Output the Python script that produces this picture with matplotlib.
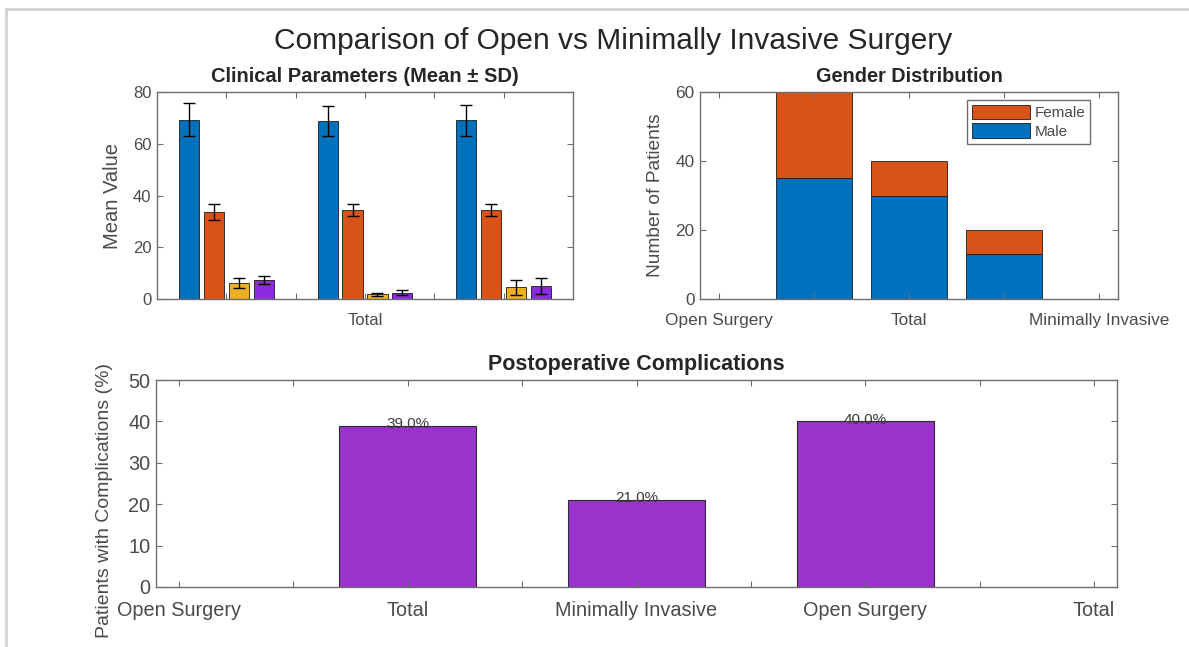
#!/usr/bin/env python3
import matplotlib
matplotlib.use('Agg')
import matplotlib.pyplot as plt
from matplotlib.lines import Line2D
import numpy as np

plt.rcParams['font.family'] = ['Liberation Sans', 'DejaVu Sans']

# clinical parameters, 3 groups x 4 parameters
clin_groups = [1, 2, 3]
clin_means = [
    [69.3, 33.7, 6.3, 7.3],
    [68.8, 34.3, 1.8, 2.4],
    [69.1, 34.3, 4.5, 5.0],
]
clin_sds = [
    [6.3, 3.0, 1.9, 1.6],
    [5.7, 2.4, 0.6, 0.9],
    [6.0, 2.4, 2.8, 3.0],
]
clin_colors = ['#0072BD', '#D95319', '#EDB120', '#8A2BE2']

# gender distribution
gender_x = [1, 2, 3]
male = [35, 30, 13]
female = [25, 10, 7]

# complications (%)
comp_x = [1, 2, 3]
comp_pct = [39.0, 21.0, 40.0]
comp_labels = ['Open Surgery', 'Total', 'Minimally Invasive']

TICK_GRAY = '#4a4a4a'
AX_GRAY = '#6e6e6e'
W, H = 1189, 647


def px_axes(fig, left, top, right, bottom):
    return fig.add_axes([left / W, 1 - bottom / H, (right - left) / W, (bottom - top) / H])


def matlab_style(ax, fs, xpad):
    for s in ax.spines.values():
        s.set_color(AX_GRAY)
        s.set_linewidth(1.0)
    ax.tick_params(which='both', direction='in', top=True, right=True,
                   color=AX_GRAY, labelcolor=TICK_GRAY, labelsize=fs,
                   length=4, width=0.8, pad=4)
    ax.tick_params(axis='x', which='both', pad=xpad)


fig = plt.figure(figsize=(W / 100, H / 100), dpi=100)

# window frame
fig.add_artist(Line2D([6 / W, 6 / W], [0, 1 - 9 / H], color='#d4d4d4', lw=2))
fig.add_artist(Line2D([6 / W, 1], [1 - 9 / H, 1 - 9 / H], color='#d4d4d4', lw=2))

fig.text(613 / W, 1 - 41 / H, 'Comparison of Open vs Minimally Invasive Surgery',
         ha='center', va='center', fontsize=21.5, color='#262626')

# --- clinical parameters
ax1 = px_axes(fig, 157, 92, 573, 299)
offsets = [-0.27, -0.09, 0.09, 0.27]
means = np.array(clin_means)
sds = np.array(clin_sds)
for j in range(4):
    xs = np.array(clin_groups) + offsets[j]
    ax1.bar(xs, means[:, j], width=0.145, color=clin_colors[j],
            edgecolor='#1a1a1a', linewidth=0.6)
    ax1.errorbar(xs, means[:, j], yerr=sds[:, j], fmt='none', ecolor='black',
                 elinewidth=1, capsize=4.5, capthick=1)
ax1.set_xlim(0.5, 3.5)
ax1.set_ylim(0, 80)
ax1.set_yticks([0, 20, 40, 60, 80])
ax1.set_xticks([1, 1.5, 2, 2.5, 3])
ax1.set_xticklabels(['', '', 'Total', '', ''])
matlab_style(ax1, 12, 10)
ax1.set_title('Clinical Parameters (Mean ± SD)', fontsize=14.5, fontweight='bold',
              color='#262626', pad=7)
ax1.set_ylabel('Mean Value', fontsize=14.5, color=TICK_GRAY)
ax1.yaxis.set_label_coords(-0.085, 0.5)

# --- gender distribution
ax2 = px_axes(fig, 700, 92, 1118, 299)
ax2.bar(gender_x, male, width=0.8, color='#0072BD', edgecolor='#1a1a1a',
        linewidth=0.6, label='Male')
ax2.bar(gender_x, female, width=0.8, bottom=male, color='#D95319',
        edgecolor='#1a1a1a', linewidth=0.6, label='Female')
ax2.set_xlim(-0.2, 4.2)
ax2.set_ylim(0, 60)
ax2.set_yticks([0, 20, 40, 60])
ax2.set_xticks([0, 1, 2, 3, 4])
ax2.set_xticklabels(['Open Surgery', '', 'Total', '', 'Minimally Invasive'])
matlab_style(ax2, 12.4, 10)
ax2.set_title('Gender Distribution', fontsize=14.3, fontweight='bold',
              color='#262626', pad=7)
ax2.set_ylabel('Number of Patients', fontsize=13.8, color=TICK_GRAY)
ax2.yaxis.set_label_coords(-0.085, 0.5)
h, l = ax2.get_legend_handles_labels()
leg = ax2.legend(h[::-1], l[::-1], loc='upper right', bbox_to_anchor=(0.94, 0.975),
                 fontsize=11, fancybox=False, framealpha=1, edgecolor=AX_GRAY,
                 handlelength=3.8, handleheight=1.1, handletextpad=0.3,
                 borderpad=0.3, labelspacing=0.2, borderaxespad=0.2)
for t in leg.get_texts():
    t.set_color(TICK_GRAY)

# --- postoperative complications
ax3 = px_axes(fig, 156, 380, 1117, 587)
bars = ax3.bar(comp_x, comp_pct, width=0.6, color='#9933CC', edgecolor='#2a2a2a',
               linewidth=0.8)
for x, v in zip(comp_x, comp_pct):
    ax3.text(x, v + 0.4, f'{v:.1f}%', ha='center', va='center', fontsize=11,
             color='#3a3a3a')
ax3.set_xlim(-0.1, 4.1)
ax3.set_ylim(0, 50)
ax3.set_yticks(range(0, 51, 10))
ax3.set_xticks(range(5))
ax3.set_xticklabels([comp_labels[i % 3] for i in range(5)])
ax3.set_xticks(np.arange(0.5, 4, 1), minor=True)
matlab_style(ax3, 14.3, 10)
ax3.set_title('Postoperative Complications', fontsize=15.5, fontweight='bold',
              color='#262626', pad=7)
ax3.set_ylabel('Patients with Complications (%)', fontsize=14, color=TICK_GRAY)
ax3.yaxis.set_label_coords(-0.045, 0.42)

fig.savefig('out.png', dpi=100, facecolor='white')
